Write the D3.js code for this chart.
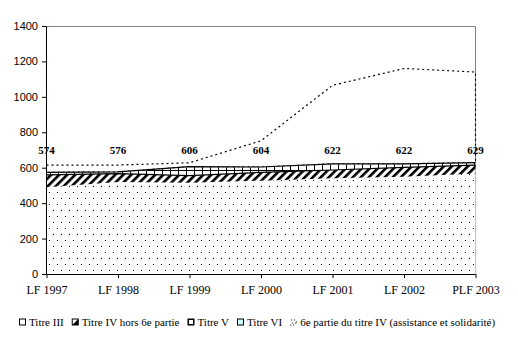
<!DOCTYPE html>
<html>
<head>
<meta charset="utf-8">
<script src="https://cdn.jsdelivr.net/npm/d3@7/dist/d3.min.js"></script>
<style>
  html, body { margin: 0; padding: 0; background: #fff; }
  svg { display: block; }
  .serif { font-family: "Liberation Serif", "Times New Roman", serif; }
  .sans { font-family: "Liberation Sans", Arial, sans-serif; }
</style>
</head>
<body>
<script>
// Budget by title, stacked (millions), LF 1997 to PLF 2003
const categories = ["LF 1997", "LF 1998", "LF 1999", "LF 2000", "LF 2001", "LF 2002", "PLF 2003"];
const titre3      = [490, 520, 515, 527, 540, 549, 568];
const titre4Hors6 = [70, 47, 40, 47, 47, 53, 47];
const titre5      = [12, 7, 49, 28, 33, 18, 12];
const titre6      = [2, 2, 2, 2, 2, 2, 2];
const partie6     = [41, 39, 22, 148, 443, 538, 511];
// Totals of titres III to VI printed above the stack
const totalLabels = [574, 576, 606, 604, 622, 622, 629];
const yTicks = [0, 200, 400, 600, 800, 1000, 1200, 1400];
const seriesNames = ["Titre III", "Titre IV hors 6e partie", "Titre V", "Titre VI",
                     "6e partie du titre IV (assistance et solidarité)"];

const W = 518, H = 340;
const plot = { left: 46, right: 475.5, top: 26, bottom: 274 };

const svg = d3.select("body").append("svg").attr("width", W).attr("height", H);
const defs = svg.append("defs");

// Sparse dot fill
const dots = defs.append("pattern").attr("id", "dots")
  .attr("patternUnits", "userSpaceOnUse").attr("width", 8).attr("height", 12)
  .attr("x", 1).attr("y", 0);
dots.append("rect").attr("width", 8).attr("height", 12).attr("fill", "#fff");
dots.append("rect").attr("x", 0).attr("y", 0).attr("width", 1).attr("height", 1).attr("fill", "#000");
dots.append("rect").attr("x", 4).attr("y", 6).attr("width", 1).attr("height", 1).attr("fill", "#000");

// Wide upward diagonal hatch
const hatch = defs.append("pattern").attr("id", "hatch")
  .attr("patternUnits", "userSpaceOnUse").attr("width", 5.66).attr("height", 8)
  .attr("patternTransform", "rotate(45)");
hatch.append("rect").attr("width", 5.66).attr("height", 8).attr("fill", "#fff");
hatch.append("rect").attr("width", 2.6).attr("height", 8).attr("fill", "#000");

// Open grid fill
const grid = defs.append("pattern").attr("id", "grid")
  .attr("patternUnits", "userSpaceOnUse").attr("width", 8).attr("height", 8)
  .attr("x", 2).attr("y", 2);
grid.append("rect").attr("width", 8).attr("height", 8).attr("fill", "#fff");
grid.append("rect").attr("x", 0).attr("y", 0).attr("width", 1).attr("height", 8).attr("fill", "#000");
grid.append("rect").attr("x", 0).attr("y", 0).attr("width", 8).attr("height", 1).attr("fill", "#000");

const x = d3.scalePoint().domain(categories).range([plot.left + 0.5, plot.right]);
const y = d3.scaleLinear().domain([0, 1400]).range([plot.bottom, plot.top]);

const rows = categories.map((c, i) => ({
  cat: c, t3: titre3[i], t4: titre4Hors6[i], t5: titre5[i], t6: titre6[i], p6: partie6[i]
}));
const keys = ["t3", "t4", "t5", "t6", "p6"];
const stacked = d3.stack().keys(keys)(rows);

const area = d3.area()
  .x(d => x(d.data.cat))
  .y0(d => y(d[0]))
  .y1(d => y(d[1]));
const topLine = d3.line()
  .x(d => x(d.data.cat))
  .y(d => y(d[1]));

// Plot frame (top and right)
svg.append("path")
  .attr("d", `M${plot.left},${plot.top + 0.5} H${plot.right} V${plot.bottom}`)
  .attr("fill", "none").attr("stroke", "#808080").attr("stroke-width", 1);

// 6e partie: outlined only, dashed
svg.append("path").attr("d", area(stacked[4]))
  .attr("fill", "none").attr("stroke", "#000").attr("stroke-width", 1.2)
  .attr("stroke-dasharray", "2,3");

const fills = { t3: "url(#dots)", t4: "url(#hatch)", t5: "url(#grid)", t6: "#ccffff" };
stacked.slice(0, 4).forEach(s => {
  svg.append("path").attr("d", area(s)).attr("fill", fills[s.key]).attr("stroke", "none");
});
// Boundary lines on top of hatched and grid layers
[stacked[1], stacked[3]].forEach(s => {
  svg.append("path").attr("d", topLine(s))
    .attr("fill", "none").attr("stroke", "#000").attr("stroke-width", 1.2);
});

// Axes
const yAxis = svg.append("g").attr("transform", `translate(${plot.left},0)`)
  .call(d3.axisLeft(y).tickValues(yTicks).tickFormat(d3.format("d"))
        .tickSize(4).tickPadding(4).tickSizeOuter(0));
yAxis.attr("font-family", null).attr("font-size", null);
yAxis.selectAll("text").attr("class", "sans").attr("font-size", 11).attr("fill", "#000");
yAxis.selectAll("line, path").attr("stroke", "#000");

const xAxis = svg.append("g").attr("transform", `translate(0,${plot.bottom})`)
  .call(d3.axisBottom(x).tickSize(4).tickPadding(7).tickSizeOuter(0));
xAxis.attr("font-family", null).attr("font-size", null);
xAxis.select(".domain").attr("d", `M${plot.left + 0.5},0.5 H${plot.right}`);
xAxis.selectAll("text").attr("class", "serif").attr("font-size", 12).attr("fill", "#000");
xAxis.selectAll("line, path").attr("stroke", "#000");

// Totals above the stack
svg.append("g").selectAll("text").data(categories).join("text")
  .attr("class", "serif")
  .attr("x", c => x(c))
  .attr("y", y(700))
  .attr("dy", "0.35em")
  .attr("text-anchor", "middle")
  .attr("font-weight", "bold").attr("font-size", 11)
  .text((c, i) => totalLabels[i]);

// Legend
const legend = svg.append("g").attr("transform", "translate(19,322.5)");
let lx = 0;
const swatch = [
  g => g.append("rect").attr("x", 0.5).attr("y", -3.5).attr("width", 6).attr("height", 6)
        .attr("fill", "#fff").attr("stroke", "#000"),
  g => { g.append("rect").attr("x", 0.5).attr("y", -3.5).attr("width", 6).attr("height", 6)
        .attr("fill", "#fff").attr("stroke", "#000");
        g.append("path").attr("d", "M0.5,2.5 L6.5,-3.5 L6.5,2.5 Z").attr("fill", "#000"); },
  g => g.append("rect").attr("x", 0.75).attr("y", -3.25).attr("width", 5.5).attr("height", 5.5)
        .attr("fill", "#fff").attr("stroke", "#000").attr("stroke-width", 1.5),
  g => g.append("rect").attr("x", 0.5).attr("y", -3.5).attr("width", 6).attr("height", 6)
        .attr("fill", "#ccffff").attr("stroke", "#000"),
  g => { [[1,-3],[4,-3],[2,0],[5,0],[0,2],[3,2],[6,-1]].forEach(p =>
        g.append("rect").attr("x", p[0]).attr("y", p[1]).attr("width", 1).attr("height", 1).attr("fill", "#000")); }
];
seriesNames.forEach((name, i) => {
  const g = legend.append("g").attr("transform", `translate(${lx},0)`);
  swatch[i](g);
  const t = g.append("text").attr("class", "serif").attr("x", 10).attr("y", 0).attr("dy", "0.35em")
    .attr("font-size", 11).attr("fill", "#000").text(name);
  lx += 10 + t.node().getComputedTextLength() + 8;
});
</script>
</body>
</html>
